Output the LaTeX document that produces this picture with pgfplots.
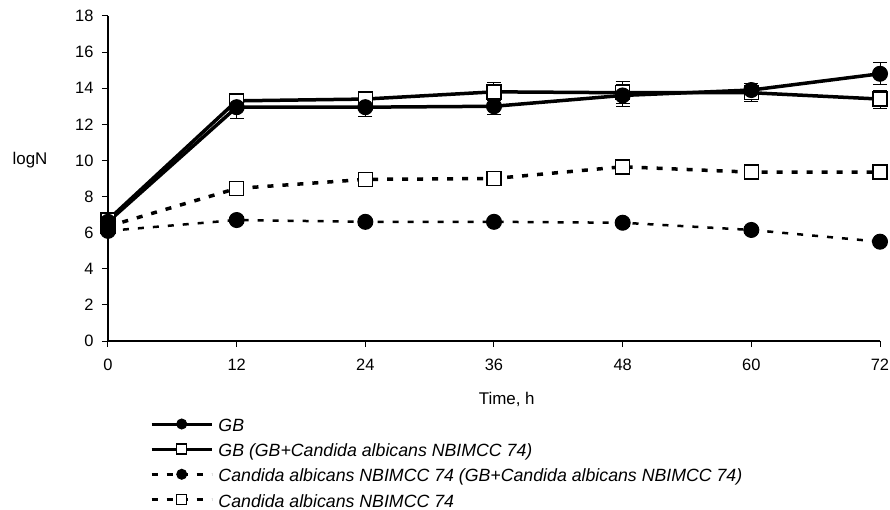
\documentclass[border=0pt]{standalone}
\usepackage{pgfplots}
\pgfplotsset{compat=1.18}
\usepackage{pgfplotstable}
\usepackage{fontspec}
\setmainfont{Liberation Sans}
\usetikzlibrary{calc}

\pgfplotstableread{
x y e
0 6.6 0.2
12 12.95 0.6
24 12.95 0.5
36 13.0 0.45
48 13.6 0.6
60 13.9 0.35
72 14.8 0.6
}\gb
\pgfplotstableread{
x y e
0 6.7 0.2
12 13.3 0.4
24 13.4 0.35
36 13.8 0.5
48 13.75 0.6
60 13.75 0.5
72 13.4 0.5
}\gbmix
\pgfplotstableread{
x y e
0 6.1 0.2
12 6.7 0.2
24 6.6 0.2
36 6.6 0.2
48 6.55 0.2
60 6.15 0.2
72 5.5 0.2
}\camix
\pgfplotstableread{
x y e
0 6.35 0.25
12 8.45 0.3
24 8.95 0.3
36 9.0 0.3
48 9.65 0.3
60 9.35 0.3
72 9.35 0.3
}\ca

\pgfplotsset{
  sGB/.style={black, line width=3.5bp, mark=*, mark size=7.5bp, mark options={solid, fill=black, line width=1bp}},
  sGBmix/.style={black, line width=3.5bp, mark=square*, mark size=7bp, mark options={solid, fill=white, draw=black, line width=1.5bp}},
  sCAmix/.style={black, line width=2.5bp, dash pattern=on 6bp off 9bp, mark=*, mark size=7.5bp, mark options={solid, fill=black, line width=1bp}},
  sCA/.style={black, line width=3.5bp, dash pattern=on 6bp off 9bp, mark=square*, mark size=7bp, mark options={solid, fill=white, draw=black, line width=1.5bp}},
}

\begin{document}
\begin{tikzpicture}
\begin{axis}[
  name=ax,
  scale only axis,
  width=772bp, height=325bp,
  xmin=0, xmax=72, ymin=0, ymax=18,
  xtick={0,12,...,72}, ytick={0,2,...,18},
  axis x line=bottom, axis y line=left,
  axis line style={-, line width=1.1bp},
  tick align=outside,
  major tick length=6bp,
  tick style={black, line width=1bp},
  clip=false,
  /pgf/number format/assume math mode=true,
  tick label style={font=\fontsize{16.5}{18}\selectfont},
  xticklabel style={yshift=-8bp},
  yticklabel style={xshift=-5bp},
  xlabel={Time, h},
  ylabel={logN},
  xlabel style={at={(axis description cs:0.5165,-0.18)}, anchor=center, font=\fontsize{17}{19}\selectfont},
  ylabel style={at={(axis description cs:-0.101,0.557)}, anchor=center, rotate=-90, font=\fontsize{17}{19}\selectfont},
  legend style={at={(axis description cs:0.0544,-0.24)}, anchor=north west,
    draw=none, fill=none, inner sep=0pt, outer sep=0pt,
    font=\fontsize{17.8}{19}\selectfont\itshape,
    row sep=8.7bp,
    nodes={inner sep=0pt, text height=12.5bp, text depth=3.8bp},
    /tikz/every odd column/.append style={column sep=5bp}},
  legend cell align=left,
  legend image code/.code={
    \draw[#1] (0bp,0.33em) -- (60bp,0.33em);
    \draw[#1, mark size=5bp] plot coordinates {(30bp,0.33em)};
  },
  error bars/error bar style={line width=1bp, solid, black},
  error bars/error mark options={rotate=90, mark size=7bp, line width=1bp, solid, black},
]
\coordinate (sw) at (rel axis cs:0,0);

\addlegendimage{sGB, line width=3bp}
\addlegendentry{GB}
\addlegendimage{sGBmix, line width=3bp}
\addlegendentry{GB (GB+Candida albicans NBIMCC 74)}
\addlegendimage{sCAmix}
\addlegendentry{Candida albicans NBIMCC 74 (GB+Candida albicans NBIMCC 74)}
\addlegendimage{sCA}
\addlegendentry{Candida albicans NBIMCC 74}

\addplot[sCA, forget plot, error bars/.cd, y dir=both, y explicit]
  table[x=x, y=y, y error=e] {\ca};
\addplot[sCAmix, forget plot, error bars/.cd, y dir=both, y explicit]
  table[x=x, y=y, y error=e] {\camix};
\addplot[sGBmix, forget plot, error bars/.cd, y dir=both, y explicit]
  table[x=x, y=y, y error=e] {\gbmix};
\addplot[sGB, forget plot, error bars/.cd, y dir=both, y explicit]
  table[x=x, y=y, y error=e] {\gb};
\end{axis}
\pgfresetboundingbox
\path[use as bounding box] ($(sw)+(-108bp,-169bp)$) rectangle ($(sw)+(782bp,341bp)$);
\end{tikzpicture}
\end{document}
